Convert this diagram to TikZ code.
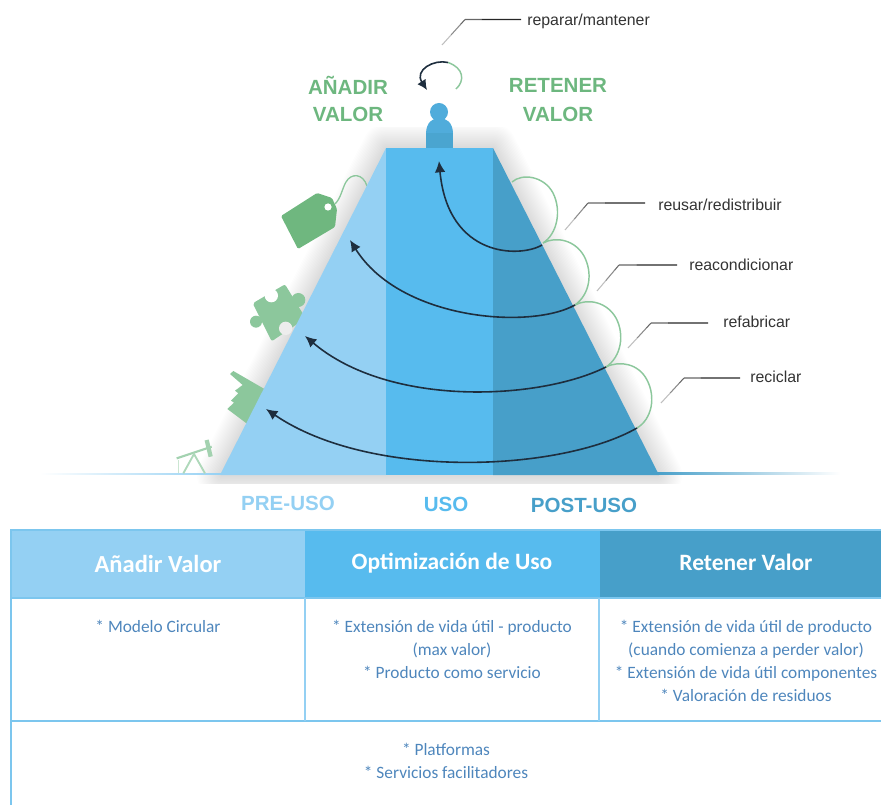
\documentclass[tikz,border=0pt]{standalone}
\usepackage{fontspec}
\setmainfont{Liberation Sans}
\newfontfamily\carl{Carlito}
\usetikzlibrary{arrows.meta,calc}
\definecolor{lightblue}{HTML}{94D0F3}
\definecolor{midblue}{HTML}{57BBEE}
\definecolor{darkblue}{HTML}{479FC9}
\definecolor{gtext}{HTML}{6DB77F}
\definecolor{gicon}{HTML}{6FB77F}
\definecolor{gicon2}{HTML}{8CC79C}
\definecolor{gline}{HTML}{8CC79C}
\definecolor{arrowdark}{HTML}{1E2E3E}
\definecolor{bodytext}{HTML}{4E86BC}
\definecolor{tableline}{HTML}{7CC6EE}
\tikzset{
  bighead/.style={font=\fontsize{15.4pt}{18pt}\selectfont\bfseries,inner sep=0pt},
  leaderlabel/.style={font=\fontsize{11.9pt}{14pt}\selectfont,text=black!80,anchor=west,inner sep=0pt},
  flow/.style={arrowdark,line width=1.2pt,-{Latex[length=8.5pt,width=8pt]}},
  loopline/.style={gline,line width=1.1pt},
  headcell/.style={font=\carl\fontsize{17.6pt}{20pt}\selectfont\bfseries,text=white,inner sep=0pt},
  bodycell/.style={font=\carl\fontsize{13pt}{17.3pt}\selectfont,text=bodytext,align=center,inner sep=0pt,anchor=north},
  tline/.style={tableline,line width=1.1pt},
  zoomf/.style={shift={(170,360)},x=0.25pt,y=-0.25pt},
  zoomp/.style={shift={(240,275)},x=0.25pt,y=-0.25pt},
}
\newcommand{\leaderline}[3]{%
  \draw[black!25,line width=.8pt] (#1) -- ($(#1)!.4!(#2)$);
  \draw[black!45,line width=.8pt] ($(#1)!.4!(#2)$) -- ($(#1)!.8!(#2)$);
  \draw[black!60,line width=.8pt] ($(#1)!.8!(#2)$) -- (#2);
  \draw[black!60,line width=.8pt] (#2) -- ($(#2)!.3!(#3)$);
  \draw[black!85,line width=1pt] ($(#2)!.3!(#3)$) -- (#3);
}
\begin{document}
\begin{tikzpicture}[x=0.75pt,y=-0.75pt]
\useasboundingbox (0,0) rectangle (881,805);
% soft shadow round the pyramid
\begin{scope}
  \clip (120,128) rectangle (760,483);
  \foreach \w in {2,4,...,36}{
    \draw[black,opacity=.008,line width=\w pt,line join=round] (386,148) -- (493,148) -- (658,475) -- (221,475) -- cycle;
  }
\end{scope}
% ground
\shade[left color=white,right color=lightblue] (40,473.2) rectangle (222,474.8);
\shade[left color=darkblue,right color=white] (657,472.6) rectangle (840,474.2);
% icons
\fill[gicon,rounded corners=1pt] (281,216) -- (317,193) -- (332,198) -- (337,209) -- (335,227) -- (298,249) -- cycle;
\fill[white] (328,207) circle (3.6);
\draw[gicon2,line width=1pt] (335,204) .. controls (341,198) and (342,189) .. (346,182) .. controls (351,173) and (363,173) .. (367,186);
\begin{scope}[zoomp]
  \fill[gicon2,rounded corners=1.5pt] (38,85) -- (135,28) -- (197,130) -- (95,199) -- cycle;
  \fill[gicon2] (175,75) circle (21);
  \fill[gicon2] (48,140) circle (18);
  \fill[white] (94,62) circle (20);
  \fill[black!7] (137,160) circle (20);
\end{scope}
\begin{scope}[zoomf]
  \fill[gicon2] (180,42) -- (190,33) -- (285,88) -- (232,192) -- (172,147) -- (192,128) -- (183,122) -- (205,100) -- (195,92) -- (218,75) -- cycle;
  \draw[gicon2!80,line width=1.6pt] (20,295) -- (125,260);
  \draw[gicon2!80,line width=3.2pt] (110,240) -- (122,290);
  \draw[gicon2!70,line width=1.4pt] (40,340) -- (72,282) -- (105,340);
  \draw[gicon2!45,line width=1pt] (25,300) -- (25,340);
\end{scope}
% pyramid
\fill[lightblue] (386,148) -- (386,475) -- (221,475) -- (221,473) -- cycle;
\fill[midblue] (386,148) rectangle (493,475);
\fill[darkblue] (493,148) -- (658,473) -- (659,475) -- (493,475) -- cycle;
% pawn
\fill[midblue!92!black] (426,134) .. controls (426,122) and (433,118) .. (439,118) .. controls (446,118) and (453,122) .. (453,134) -- cycle;
\fill[darkblue!80!midblue] (426,133.5) rectangle (453,148);
\fill[midblue!92!black] (439,112) circle (9);
% right-hand green loops
\draw[loopline] (512,182) .. controls (522,173) and (544,176) .. (553,193) .. controls (562,211) and (557,234) .. (543,243);
\draw[loopline] (543,243) .. controls (556,236) and (575,240) .. (584,256) .. controls (593,273) and (590,294) .. (575,305);
\draw[loopline] (575,305) .. controls (588,298) and (607,302) .. (616,318) .. controls (625,335) and (621,357) .. (606,367);
\draw[loopline] (606,367) .. controls (620,360) and (639,364) .. (647,380) .. controls (656,397) and (652,419) .. (637,428);
% top loop
\draw[gline,line width=1.1pt] (456,89) .. controls (465,81) and (464,68) .. (448,62.5);
\draw[arrowdark,line width=1.2pt,-{Latex[length=7.5pt,width=7.5pt]}] (448,62.5) .. controls (434,59) and (414,70) .. (427,90);
% flows
\coordinate (f1s) at (542,245); \coordinate (f1e) at (439,161);
\coordinate (f2s) at (575,305); \coordinate (f2e) at (350,240);
\coordinate (f3s) at (606,367); \coordinate (f3e) at (305,336);
\coordinate (f4s) at (637,428); \coordinate (f4e) at (266,409);
\draw[flow] (f1s) .. controls (520,258) and (448,258) .. (f1e);
\draw[flow] (f2s) .. controls (530,330) and (400,320) .. (f2e);
\draw[flow] (f3s) .. controls (540,400) and (390,408) .. (f3e);
\draw[flow] (f4s) .. controls (560,472) and (370,480) .. (f4e);
% headings
\node[bighead,text=gtext] (an) at (348,85) {AÑADIR};
\node[bighead,text=gtext] (av) at (348,114) {VALOR};
\node[bighead,text=gtext] (rn) at (558,85) {RETENER};
\node[bighead,text=gtext] (rv) at (558,114) {VALOR};
\node[bighead,text=lightblue] (pre) at (288,503) {PRE-USO};
\node[bighead,text=midblue] (uso) at (446,504) {USO};
\node[bighead,text=darkblue] (post) at (584,505) {POST-USO};
% leader labels
\node[leaderlabel] (l0) at (527,21) {reparar/mantener};
\node[leaderlabel] (l1) at (658,204.5) {reusar/redistribuir};
\node[leaderlabel] (l2) at (689,265) {reacondicionar};
\node[leaderlabel] (l3) at (723,322) {refabricar};
\node[leaderlabel] (l4) at (750,377) {reciclar};
\coordinate (a0) at (442,45); \coordinate (b0) at (465,19.5); \coordinate (c0) at (521,19.5);
\coordinate (a1) at (565,230); \coordinate (b1) at (588,203); \coordinate (c1) at (645,203);
\coordinate (a2) at (597,291); \coordinate (b2) at (619,265); \coordinate (c2) at (677,265);
\coordinate (a3) at (628,348); \coordinate (b3) at (651,323); \coordinate (c3) at (708,323);
\coordinate (a4) at (661,403); \coordinate (b4) at (684,378); \coordinate (c4) at (740,378);
\leaderline{a0}{b0}{c0}
\leaderline{a1}{b1}{c1}
\leaderline{a2}{b2}{c2}
\leaderline{a3}{b3}{c3}
\leaderline{a4}{b4}{c4}
% table
\fill[lightblue] (11,530) rectangle (305,598);
\fill[midblue] (305,530) rectangle (600,598);
\fill[darkblue] (600,530) rectangle (881,598);
\draw[tline] (881,530) -- (11,530) -- (11,805);
\draw[tline] (11,598) -- (881,598);
\draw[tline] (11,721) -- (881,721);
\draw[lightblue,line width=1.1pt] (305,598) -- (305,721);
\draw[lightblue,line width=1.1pt] (599,598) -- (599,721);
\node[headcell,font=\carl\fontsize{18.4pt}{20pt}\selectfont\bfseries] (h1) at (158,564) {Añadir Valor};
\node[headcell] (h2) at (452,563.5) {Optimización de Uso};
\node[headcell] (h3) at (746,562) {Retener Valor};
\node[bodycell] (c11) at (158,620) {* Modelo Circular};
\node[bodycell] (c12) at (452,620) {* Extensión de vida útil - producto\\(max valor)\\* Producto como servicio};
\node[bodycell] (c13) at (746,620) {* Extensión de vida útil de producto\\(cuando comienza a perder valor)\\* Extensión de vida útil componentes\\* Valoración de residuos};
\node[bodycell] (c21) at (446,743) {* Platformas\\* Servicios facilitadores};
\end{tikzpicture}
\end{document}
